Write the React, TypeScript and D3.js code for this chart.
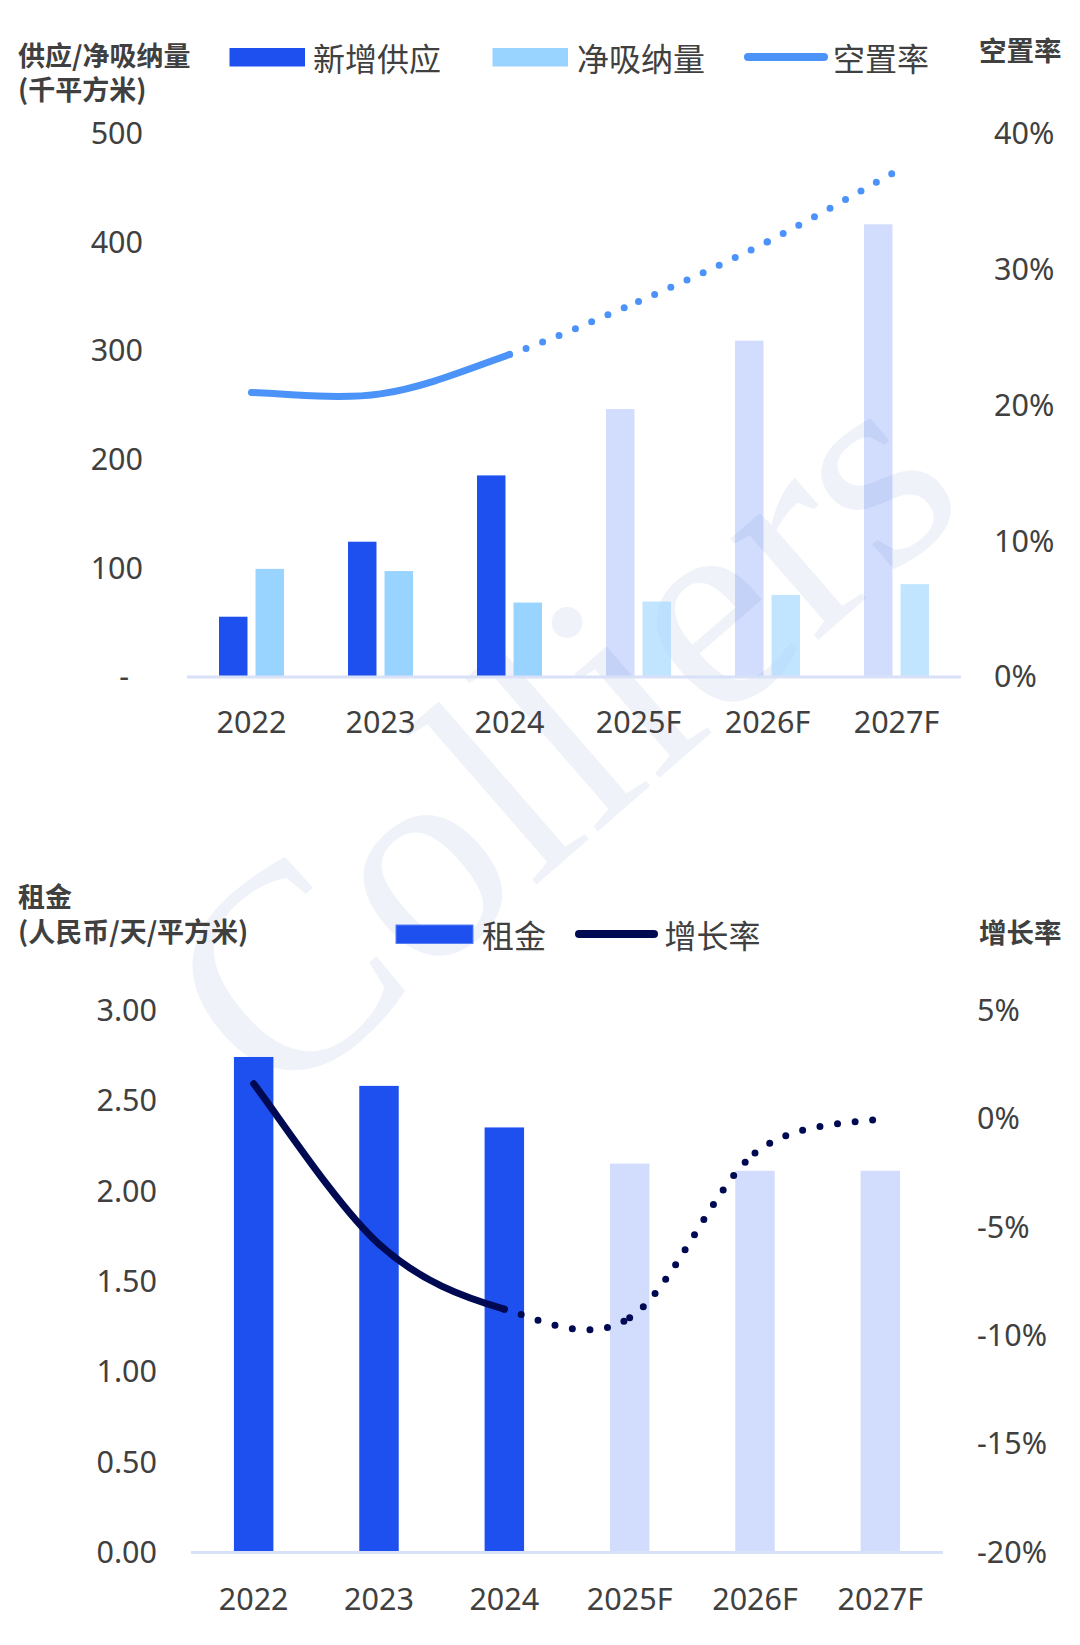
import React from 'react';
import * as d3 from 'd3';

// ---------- data ----------
const years = ['2022', '2023', '2024', '2025F', '2026F', '2027F'];
const newSupply = [55, 124, 185, 246, 309, 416];
const netAbsorption = [99, 97, 68, 69, 75, 85];
const vacancyRate = [20.9, 20.8, 23.7, 27.6, 32.0, 37.2];
const supplyTicks = [0, 100, 200, 300, 400, 500];
const vacancyTicks = [0, 10, 20, 30, 40];

const rent = [2.74, 2.58, 2.35, 2.15, 2.11, 2.11];
const rentGrowth = [1.6, -5.8, -8.8, -9.2, -1.6, 0.0];
const rentTicks = [0, 0.5, 1, 1.5, 2, 2.5, 3];
const growthTicks = [-20, -15, -10, -5, 0, 5];

const seriesKeys = ['supply', 'absorption'];

// ---------- style ----------
const C_SUPPLY = '#1E50F0';
const C_ABSORB = '#99D3FF';
const C_VACANCY = '#4B93F8';
const C_GROWTH = '#000A52';
const C_AXIS = '#D9E1F8';
const C_TEXT = '#404040';
const NUM_FONT = "'Noto Sans', 'Open Sans', sans-serif";
const CJK_FONT = "'Noto Sans CJK SC', 'Noto Sans', sans-serif";
const TICK_FS = 30.5;
const DOT = '0 17.7';

const isForecast = (y: string) => y.endsWith('F');

type Pt = [number, number];
function bezierSegs(pts: Pt[]) {
  const n = pts.length;
  return d3.range(n - 1).map((i) => {
    const p0 = pts[Math.max(0, i - 1)], p1 = pts[i], p2 = pts[i + 1], p3 = pts[Math.min(n - 1, i + 2)];
    const c1: Pt = [p1[0] + (p2[0] - p0[0]) / 6, p1[1] + (p2[1] - p0[1]) / 6];
    const c2: Pt = [p2[0] - (p3[0] - p1[0]) / 6, p2[1] - (p3[1] - p1[1]) / 6];
    return { p1, c1, c2, p2 };
  });
}
function solidPath(segs: ReturnType<typeof bezierSegs>) {
  const p = d3.path();
  p.moveTo(segs[0].p1[0], segs[0].p1[1]);
  segs.forEach((s) => p.bezierCurveTo(s.c1[0], s.c1[1], s.c2[0], s.c2[1], s.p2[0], s.p2[1]));
  return p.toString();
}
function segPath(s: ReturnType<typeof bezierSegs>[number]) {
  const p = d3.path();
  p.moveTo(s.p1[0], s.p1[1]);
  p.bezierCurveTo(s.c1[0], s.c1[1], s.c2[0], s.c2[1], s.p2[0], s.p2[1]);
  return p.toString();
}

function NumText(props: any) {
  const { y, children, ...rest } = props;
  return (
    <text y={y + 0.357 * TICK_FS} fontFamily={NUM_FONT} fontSize={TICK_FS} fill={C_TEXT} {...rest}>
      {children}
    </text>
  );
}
function CjkText(props: any) {
  const { children, bold, size, ...rest } = props;
  return (
    <text fontFamily={CJK_FONT} fontSize={size} fontWeight={bold ? 700 : 400} fill={C_TEXT} dominantBaseline="central" {...rest}>
      {children}
    </text>
  );
}

function TopChart() {
  const x0 = d3.scaleBand<string>().domain(years).range([187, 961]).padding(0);
  const groupW = 65;
  const x1 = d3.scaleBand<string>().domain(seriesKeys).range([0, groupW]).paddingInner(0.22);
  const y = d3.scaleLinear().domain([0, 500]).range([676.5, 133]);
  const yR = d3.scaleLinear().domain([0, 40]).range([676.5, 133]);
  const cx = (yr: string) => (x0(yr) as number) + x0.bandwidth() / 2;
  const gx = (yr: string) => (x0(yr) as number) + (x0.bandwidth() - groupW) / 2;

  const pts: Pt[] = years.map((yr, i) => [cx(yr), yR(vacancyRate[i])]);
  const segs = bezierSegs(pts);
  const lastActual = years.findIndex(isForecast) - 1;

  return (
    <g>
      {years.map((yr, i) => (
        <g key={yr}>
          <rect x={gx(yr) + (x1('supply') as number)} y={y(newSupply[i])} width={x1.bandwidth()} height={y(0) - y(newSupply[i])}
            fill={C_SUPPLY} fillOpacity={isForecast(yr) ? 0.2 : 1} />
          <rect x={gx(yr) + (x1('absorption') as number)} y={y(netAbsorption[i])} width={x1.bandwidth()} height={y(0) - y(netAbsorption[i])}
            fill={C_ABSORB} fillOpacity={isForecast(yr) ? 0.6 : 1} />
        </g>
      ))}
      <line x1={187} x2={961} y1={y(0) + 0.5} y2={y(0) + 0.5} stroke={C_AXIS} strokeWidth={3} />
      <path d={solidPath(segs.slice(0, lastActual))} fill="none" stroke={C_VACANCY} strokeWidth={7} strokeLinecap="round" strokeLinejoin="round" />
      {segs.slice(lastActual).map((s, i) => (
        <path key={i} d={segPath(s)} fill="none" stroke={C_VACANCY} strokeWidth={7} strokeLinecap="round" strokeDasharray={DOT} />
      ))}
      {supplyTicks.map((t) => (
        <NumText key={t} x={t === 0 ? 129 : 143} y={y(t)} textAnchor="end">{t === 0 ? '-' : String(t)}</NumText>
      ))}
      {vacancyTicks.map((t) => (
        <NumText key={t} x={994} y={yR(t)} textAnchor="start">{`${t}%`}</NumText>
      ))}
      {years.map((yr) => (
        <NumText key={yr} x={cx(yr)} y={722} textAnchor="middle">{yr}</NumText>
      ))}
      <CjkText x={18} y={54} size={27} bold>供应/净吸纳量</CjkText>
      <CjkText x={18} y={88} size={27} bold>(千平方米)</CjkText>
      <CjkText x={979} y={49} size={27.5} bold>空置率</CjkText>
      <rect x={229.5} y={48} width={75.5} height={18.5} fill={C_SUPPLY} />
      <CjkText x={313} y={57} size={32}>新增供应</CjkText>
      <rect x={492.5} y={48} width={75.5} height={18.5} fill={C_ABSORB} />
      <CjkText x={577} y={57} size={32}>净吸纳量</CjkText>
      <line x1={748} x2={824} y1={57} y2={57} stroke={C_VACANCY} strokeWidth={8} strokeLinecap="round" />
      <CjkText x={833} y={57} size={32}>空置率</CjkText>
    </g>
  );
}

function BottomChart() {
  const x = d3.scaleBand<string>().domain(years).range([191, 943]).paddingInner(0.685).paddingOuter(0.3425);
  const y = d3.scaleLinear().domain([0, 3]).range([1552, 1010]);
  const yR = d3.scaleLinear().domain([-20, 5]).range([1552, 1010]);
  const cx = (yr: string) => (x(yr) as number) + x.bandwidth() / 2;
  const pts: Pt[] = years.map((yr, i) => [cx(yr), yR(rentGrowth[i])]);
  const segs = bezierSegs(pts);
  const lastActual = years.findIndex(isForecast) - 1;
  const fmt = d3.format('.2f');

  return (
    <g>
      {years.map((yr, i) => (
        <rect key={yr} x={x(yr)} y={y(rent[i])} width={x.bandwidth()} height={y(0) - y(rent[i])}
          fill={C_SUPPLY} fillOpacity={isForecast(yr) ? 0.2 : 1} />
      ))}
      <line x1={191} x2={943} y1={y(0) + 0.5} y2={y(0) + 0.5} stroke={C_AXIS} strokeWidth={3} />
      <path d={solidPath(segs.slice(0, lastActual))} fill="none" stroke={C_GROWTH} strokeWidth={7} strokeLinecap="round" strokeLinejoin="round" />
      {segs.slice(lastActual).map((s, i) => (
        <path key={i} d={segPath(s)} fill="none" stroke={C_GROWTH} strokeWidth={7} strokeLinecap="round" strokeDasharray={DOT} />
      ))}
      {rentTicks.map((t) => (
        <NumText key={t} x={157} y={y(t)} textAnchor="end">{fmt(t)}</NumText>
      ))}
      {growthTicks.map((t) => (
        <NumText key={t} x={977} y={yR(t)} textAnchor="start">{`${t}%`}</NumText>
      ))}
      {years.map((yr) => (
        <NumText key={yr} x={cx(yr)} y={1599} textAnchor="middle">{yr}</NumText>
      ))}
      <CjkText x={18} y={895} size={27} bold>租金</CjkText>
      <CjkText x={18} y={930} size={27} bold>(人民币/天/平方米)</CjkText>
      <CjkText x={979} y={931} size={27.5} bold>增长率</CjkText>
      <rect x={396} y={925} width={77} height={18.5} fill={C_SUPPLY} stroke="#5A82F4" strokeWidth={1} />
      <CjkText x={482} y={934} size={32}>租金</CjkText>
      <line x1={579} x2={654} y1={934} y2={934} stroke={C_GROWTH} strokeWidth={8} strokeLinecap="round" />
      <CjkText x={664.5} y={934} size={32}>增长率</CjkText>
    </g>
  );
}

export default function App() {
  return (
    <svg width={1080} height={1645} viewBox="0 0 1080 1645" style={{ position: 'absolute', left: 0, top: 0, background: '#fff' }}>
      <rect x={0} y={0} width={1080} height={1645} fill="#ffffff" />
      <text transform="translate(275,1112) rotate(-41)" fontFamily="'Liberation Serif', serif" fontSize={292} fill="#EFF3F9">
        Colliers
      </text>
      <TopChart />
      <BottomChart />
    </svg>
  );
}
